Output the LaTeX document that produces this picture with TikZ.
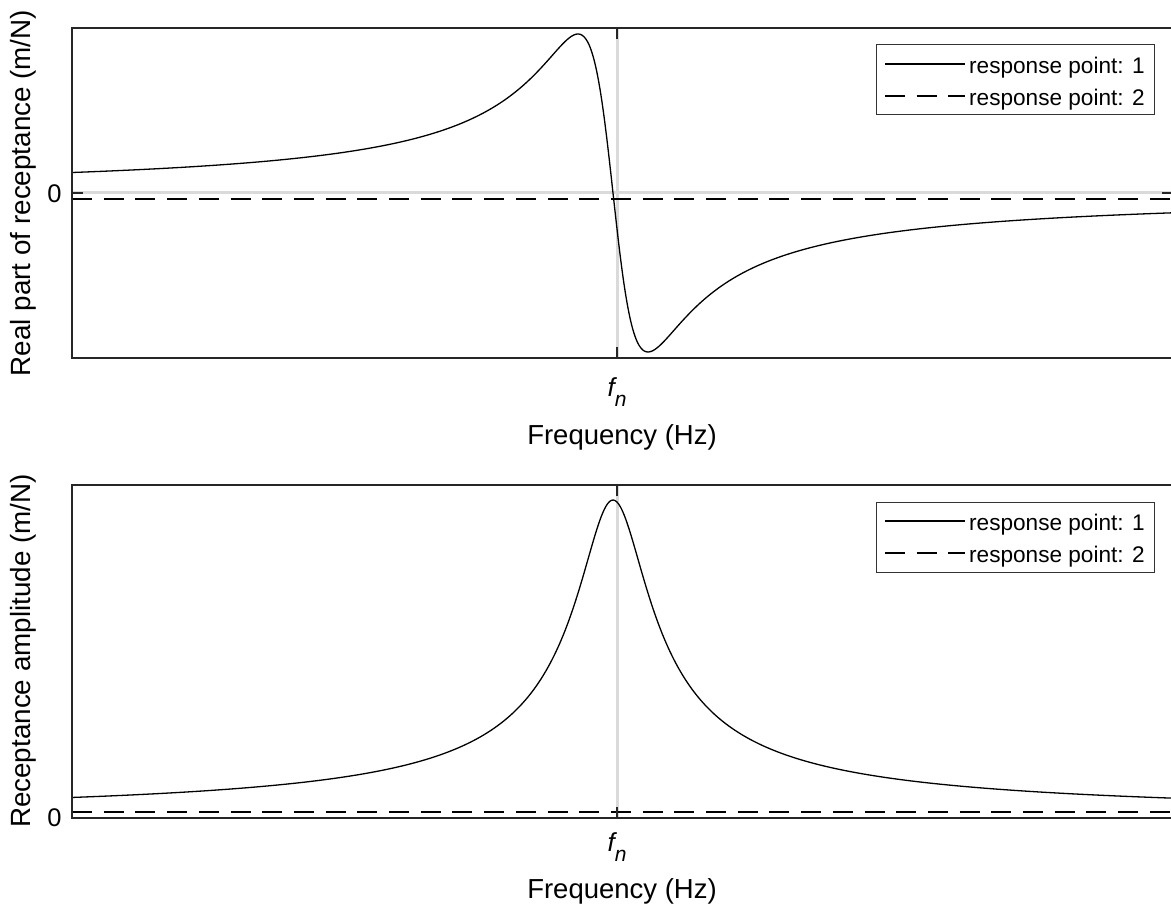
\documentclass[tikz,border=0pt]{standalone}
\usepackage{fontspec}
\setmainfont{Liberation Sans}
\definecolor{axc}{HTML}{262626}
\definecolor{grl}{HTML}{DADADA}
\definecolor{legc}{HTML}{333333}
\begin{document}
\begin{tikzpicture}[x=1pt,y=-1pt,
  axisline/.style={draw=axc, line width=2pt},
  gridline/.style={draw=grl, line width=3pt},
  curve/.style={draw=black, line width=1.3pt},
  dcurve/.style={draw=black, line width=1.3pt, dash pattern=on 20pt off 11.7pt},
  legbox/.style={draw=legc, line width=1pt, fill=white},
  ylab/.style={font=\fontsize{27.8}{30}\selectfont, rotate=90, inner sep=0pt},
  xlab/.style={font=\fontsize{27.5}{30}\selectfont, inner sep=0pt},
  ticklab/.style={font=\fontsize{25.5}{28}\selectfont, inner sep=0pt},
  legtext/.style={font=\fontsize{22.6}{24}\selectfont, inner sep=0pt, anchor=base west},
  declare function={tt(\x)=(\x-613)/35;}
]
\useasboundingbox (0,0) rectangle (1171,909);
\fill[white] (0,0) rectangle (1171,909);

% ---------------- top plot ----------------
\draw[gridline] (72,193) -- (1171,193);
\draw[gridline] (617,28) -- (617,358);
\draw[curve] plot[domain=72:1171, samples=600, smooth] (\x, {193+318*tt(\x)/(1+tt(\x)^2)});
\draw[dcurve] (72,199) -- (1171,199);
\draw[axisline] (72,28) -- (1171,28);
\draw[axisline] (72,358) -- (1171,358);
\draw[axisline] (72,27) -- (72,359);
\draw[axisline] (72,193) -- (83,193);
\draw[axisline] (1162,193) -- (1171,193);
\draw[axisline] (617,358) -- (617,347);
\draw[axisline] (617,28) -- (617,39);
\node[ticklab] (t0) at (54.5,194) {0};
\node[anchor=base, inner sep=0pt] (tfn) at (617,397) {\fontsize{26}{28}\selectfont\itshape f\raisebox{-10pt}{\fontsize{21}{22}\selectfont\itshape n}};
\node[xlab] (txl) at (622,437) {Frequency (Hz)};
\node[ylab] (tyl) at (23,193) {Real part of receptance (m/N)};
% legend
\draw[legbox] (876.7,45) rectangle (1154,115);
\draw[curve] (885,64) -- (965,64);
\draw[dcurve] (885,96) -- (965,96);
\node[legtext] (tl1) at (969,73.5) {response point: 1};
\node[legtext] (tl2) at (969,105.5) {response point: 2};

% ---------------- bottom plot ----------------
\draw[gridline] (617,485) -- (617,818);
\draw[curve] plot[domain=72:1171, samples=600, smooth] (\x, {818-318/sqrt(1+tt(\x)^2)});
\draw[dcurve] (72,812) -- (1171,812);
\draw[axisline] (72,485) -- (1171,485);
\draw[axisline] (72,818) -- (1171,818);
\draw[axisline] (72,484) -- (72,819);
\draw[axisline] (617,818) -- (617,807);
\draw[axisline] (617,485) -- (617,496);
\node[ticklab] (b0) at (54.5,818) {0};
\node[anchor=base, inner sep=0pt] (bfn) at (617,851) {\fontsize{26}{28}\selectfont\itshape f\raisebox{-10pt}{\fontsize{21}{22}\selectfont\itshape n}};
\node[xlab] (bxl) at (622,891) {Frequency (Hz)};
\node[ylab] (byl) at (23,651) {Receptance amplitude (m/N)};
% legend
\draw[legbox] (876.7,502) rectangle (1154,572);
\draw[curve] (885,521) -- (965,521);
\draw[dcurve] (885,553) -- (965,553);
\node[legtext] (bl1) at (969,530.5) {response point: 1};
\node[legtext] (bl2) at (969,562.5) {response point: 2};
\end{tikzpicture}
\end{document}
